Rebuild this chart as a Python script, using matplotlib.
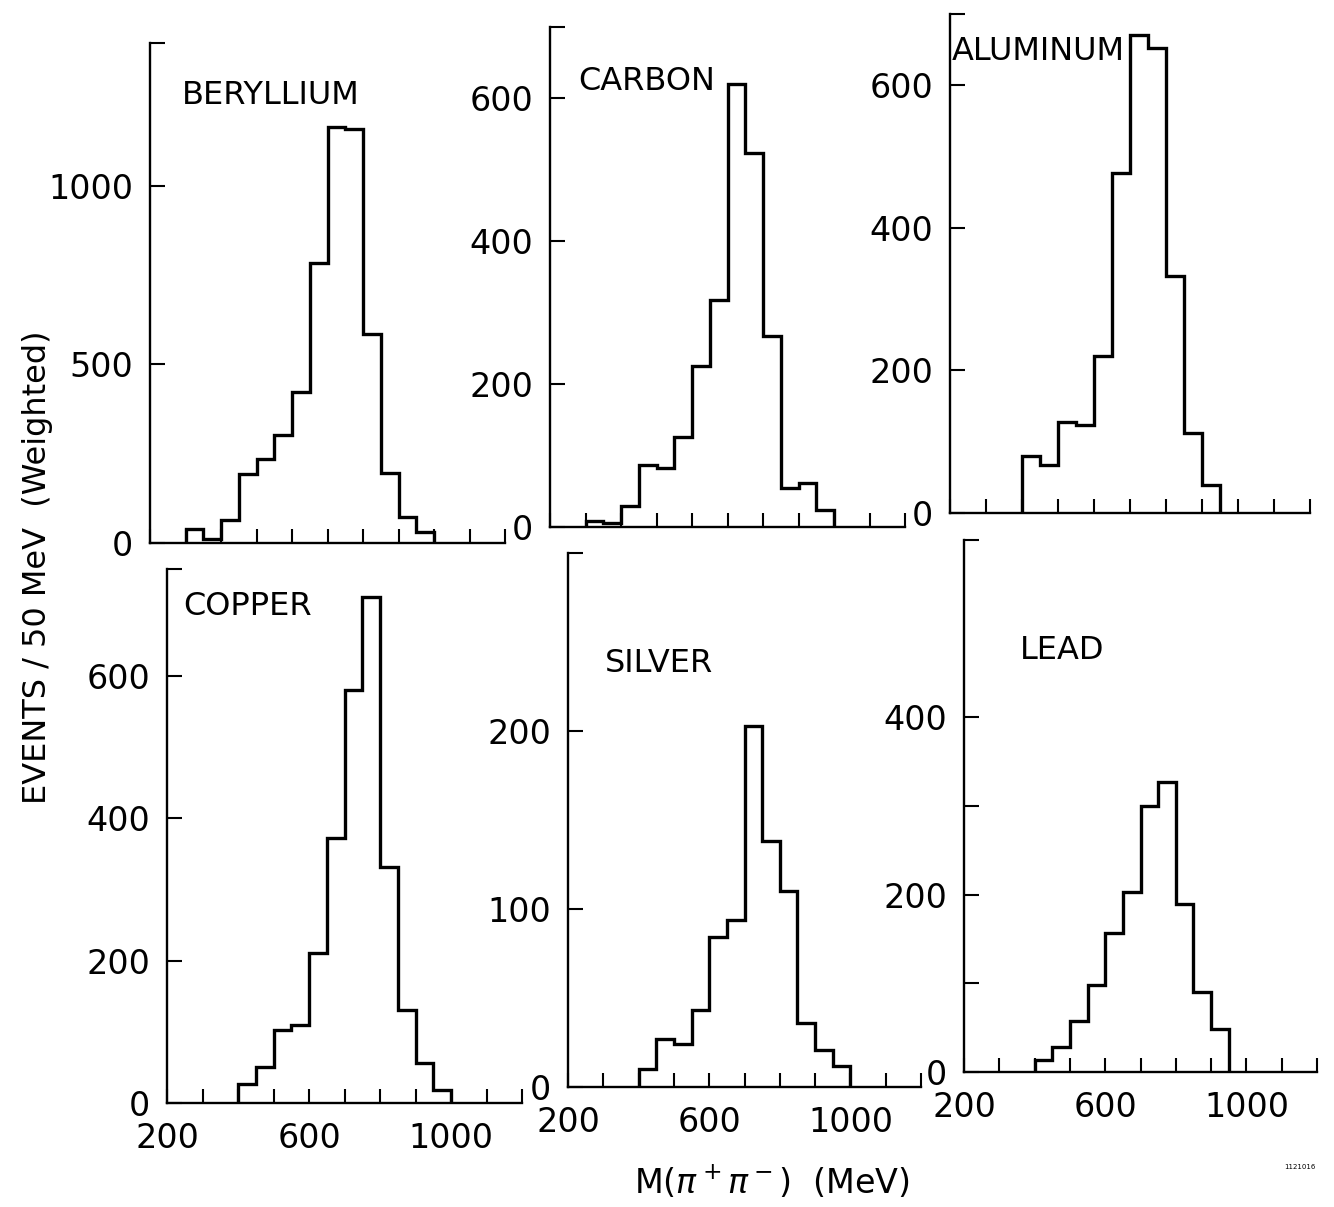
import numpy as np
import matplotlib
matplotlib.use("Agg")
import matplotlib.pyplot as plt

plt.rcParams['font.family'] = ['DejaVu Sans']

# ---------------- data (events / 50 MeV, weighted) ----------------
bin_width = 50
targets = ["BERYLLIUM", "CARBON", "ALUMINUM", "COPPER", "SILVER", "LEAD"]

beryllium_start = 300
beryllium = [38, 10, 65, 193, 236, 303, 424, 785, 1165, 1158, 585, 197, 73, 30]

carbon_start = 300
carbon = [9, 6, 29, 87, 82, 126, 226, 318, 620, 524, 268, 55, 62, 24]

aluminum_start = 400
aluminum = [80, 68, 128, 124, 220, 477, 670, 652, 332, 112, 39]

copper_start = 400
copper = [26, 51, 103, 109, 210, 372, 580, 710, 332, 130, 56, 18]

silver_start = 400
silver = [10, 27, 24, 43, 84, 94, 203, 138, 110, 36, 21, 12]

lead_start = 400
lead = [13, 28, 57, 98, 157, 203, 300, 327, 190, 90, 48]

x_range = (200, 1200)
x_ticks = list(range(200, 1201, 100))
x_ticklabels_shown = [200, 600, 1000]

# y-axis: (top of axis, tick positions, labelled ticks)
be_y = (1400, [0, 500, 1000], [0, 500, 1000])
c_y = (700, [0, 200, 400, 600], [0, 200, 400, 600])
al_y = (700, [0, 200, 400, 600], [0, 200, 400, 600])
cu_y = (750, [0, 200, 400, 600], [0, 200, 400, 600])
ag_y = (300, [0, 100, 200], [0, 100, 200])
pb_y = (600, [0, 100, 200, 300, 400], [0, 200, 400])

# label positions inside panels (data coords)
label_pos = [(290, 1254), (279, 623), (205, 647), (245, 697), (305, 238), (359, 475)]

# ---------------- figure ----------------
W, H = 1334, 1207
fig = plt.figure(figsize=(W / 100, H / 100), dpi=100)
fig.patch.set_facecolor("white")


def px_axes(left, right, top, bottom):
    return fig.add_axes([left / W, 1 - bottom / H, (right - left) / W, (bottom - top) / H])


boxes = [
    (150, 505, 43, 543),
    (550, 905, 27, 527),
    (950, 1310, 14, 513),
    (167, 522, 569, 1103),
    (568, 921, 553, 1087),
    (964, 1317, 540, 1072),
]
series = [
    (beryllium_start, beryllium),
    (carbon_start, carbon),
    (aluminum_start, aluminum),
    (copper_start, copper),
    (silver_start, silver),
    (lead_start, lead),
]
yspecs = [be_y, c_y, al_y, cu_y, ag_y, pb_y]

tick_fs = 24
for i, (box, (start, vals), (ytop, yt, ylab), name, lp) in enumerate(
        zip(boxes, series, yspecs, targets, label_pos)):
    ax = px_axes(*box)
    edges = np.arange(start, start + bin_width * (len(vals) + 1), bin_width)
    ax.stairs(vals, edges, baseline=0, color="black", linewidth=2.4)

    ax.set_xlim(*x_range)
    ax.set_ylim(0, ytop)
    for s in ("top", "right"):
        ax.spines[s].set_visible(False)
    for s in ("left", "bottom"):
        ax.spines[s].set_linewidth(1.7)

    # x ticks (inward)
    ax.set_xticks(x_ticks)
    if i >= 3:
        ax.set_xticklabels([str(t) if t in x_ticklabels_shown else "" for t in x_ticks])
    else:
        ax.set_xticklabels([""] * len(x_ticks))
    ax.tick_params(axis="x", direction="in", length=10, width=1.5,
                   labelsize=tick_fs, pad=14)

    # y ticks (inward) plus a stub at the top of the axis
    all_yt = list(yt) + [ytop]
    ax.set_yticks(all_yt)
    ax.set_yticklabels([str(t) if t in ylab else "" for t in all_yt])
    ax.tick_params(axis="y", direction="in", length=11, width=1.5,
                   labelsize=tick_fs, pad=12)

    ax.text(lp[0], lp[1], name, fontsize=23, ha="left", va="center")

# axis titles
fig.text(38 / W, 1 - 567 / H, "EVENTS / 50 MeV  (Weighted)", rotation=90,
         fontsize=23, ha="center", va="center")
fig.text(772 / W, 1 - 1182 / H, r"M($\pi^+\pi^-$)  (MeV)", fontsize=24,
         ha="center", va="center")
fig.text(1300 / W, 1 - 1167 / H, "1121016", fontsize=5, ha="center", va="center")

fig.savefig("out.png", dpi=100, facecolor="white")
